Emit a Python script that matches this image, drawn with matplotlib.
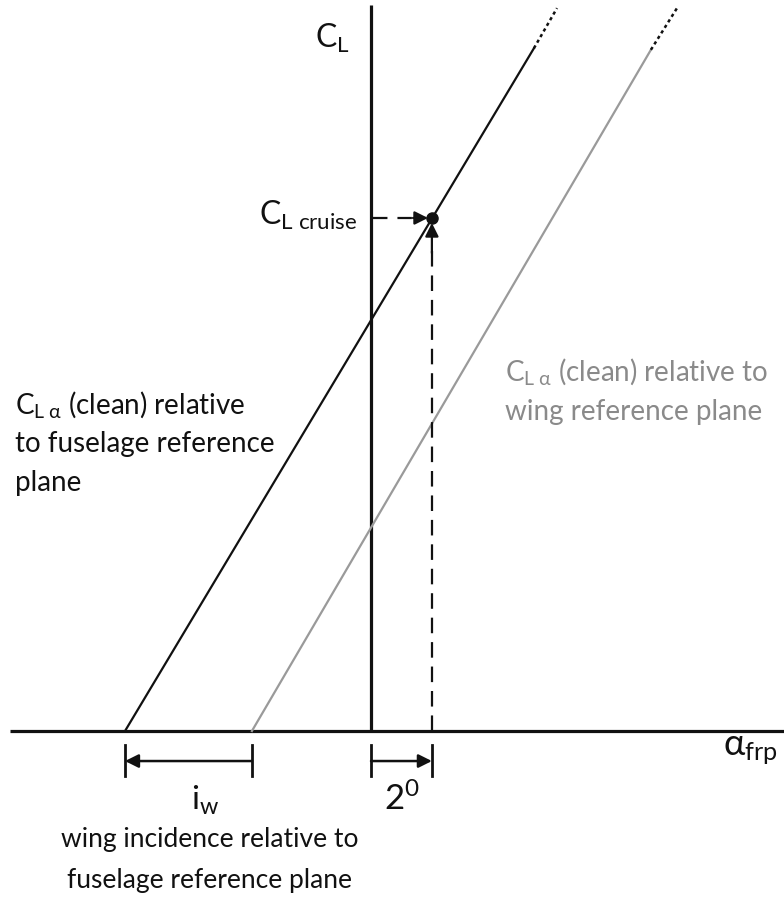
import matplotlib.pyplot as plt

plt.rcParams['font.family'] = ['Lato', 'DejaVu Sans']
plt.rcParams['mathtext.fontset'] = 'custom'
plt.rcParams['mathtext.rm'] = 'Lato'
plt.rcParams['mathtext.it'] = 'Lato:italic'
plt.rcParams['mathtext.bf'] = 'Lato:bold'

# lift curves (alpha_frp in deg, CL); solid part then dotted extension
frp_alpha = [-8.2, 5.43]
frp_cl = [0.0, 1.36]
frp_ext_alpha = [5.43, 6.2]
frp_ext_cl = [1.36, 1.44]

wrp_alpha = [-3.97, 9.33]
wrp_cl = [0.0, 1.357]
wrp_ext_alpha = [9.33, 10.2]
wrp_ext_cl = [1.357, 1.44]

# cruise point
alpha_cruise = 2.03
cl_cruise = 1.022

# zero-lift angles used for the dimension marks
alpha0_frp = -8.2
alpha0_wrp = -3.97

black = '#111111'
grey = '#9a9a9a'
grey_txt = '#8a8a8a'
fs = 20

fig = plt.figure(figsize=(7.84, 9.01), dpi=100)
ax = fig.add_axes([0, 0, 1, 1])
ax.set_xlim(-12.367, 13.767)
ax.set_ylim(-0.3386, 1.4562)
ax.axis('off')

# axes
ax.plot([-12.03, 13.767], [0, 0], color=black, lw=2.3, solid_capstyle='butt')
ax.plot([0, 0], [0, 1.446], color=black, lw=2.3, solid_capstyle='butt')

# lift curves
ax.plot(frp_alpha, frp_cl, color=black, lw=1.6)
ax.plot(frp_ext_alpha, frp_ext_cl, color=black, lw=1.8, dashes=(1.3, 1.3))
ax.plot(wrp_alpha, wrp_cl, color=grey, lw=1.6)
ax.plot(wrp_ext_alpha, wrp_ext_cl, color=black, lw=1.8, dashes=(1.3, 1.3))

# cruise point and dashed leaders
ax.plot([alpha_cruise], [cl_cruise], 'o', color=black, ms=8)
ax.plot([0.07, 1.55], [cl_cruise, cl_cruise], color=black, lw=1.6,
        dashes=(6.5, 4.5))
ax.annotate('', xy=(alpha_cruise - 0.13, cl_cruise), xytext=(1.4, cl_cruise),
            arrowprops=dict(arrowstyle='-|>', color=black, lw=1.6,
                            mutation_scale=20, shrinkA=0, shrinkB=0))
ax.plot([alpha_cruise, alpha_cruise], [0, cl_cruise - 0.06], color=black,
        lw=1.6, dashes=(7, 4))
ax.annotate('', xy=(alpha_cruise, cl_cruise - 0.01),
            xytext=(alpha_cruise, cl_cruise - 0.07),
            arrowprops=dict(arrowstyle='-|>', color=black, lw=1.6,
                            mutation_scale=20, shrinkA=0, shrinkB=0))

# dimension marks below the axis
tick_lo, tick_hi, dim_y = -0.0896, -0.0279, -0.0598
for a in [alpha0_frp, alpha0_wrp, 0, alpha_cruise]:
    ax.plot([a, a], [tick_lo, tick_hi], color=black, lw=2)
ax.annotate('', xy=(alpha0_frp, dim_y), xytext=(alpha0_wrp, dim_y),
            arrowprops=dict(arrowstyle='-|>', color=black, lw=1.8,
                            mutation_scale=20, shrinkA=0, shrinkB=0))
ax.annotate('', xy=(alpha_cruise, dim_y), xytext=(0, dim_y),
            arrowprops=dict(arrowstyle='-|>', color=black, lw=1.8,
                            mutation_scale=20, shrinkA=0, shrinkB=0))

# labels
ax.text(-1.867, 1.3606, r'$\mathrm{C}_{\mathrm{L}}$', fontsize=fs + 3,
        color=black, ha='left', va='baseline')
ax.text(-0.467, 1.008, r'$\mathrm{C}_{\mathrm{L\ cruise}}$', fontsize=fs + 3,
        color=black, ha='right', va='baseline')

left_lines = [r'$\mathrm{C}_{\mathrm{L\ \alpha}}$ (clean) relative',
              'to fuselage reference', 'plane']
for txt, y in zip(left_lines, [0.6335, 0.5558, 0.4781]):
    ax.text(-11.867, y, txt, fontsize=fs, color=black, ha='left',
            va='baseline')

right_lines = [r'$\mathrm{C}_{\mathrm{L\ \alpha}}$ (clean) relative to',
               'wing reference plane']
for txt, y in zip(right_lines, [0.6992, 0.6195]):
    ax.text(4.467, y, txt, fontsize=fs, color=grey_txt, ha='left',
            va='baseline')

ax.text(11.733, -0.0478, r'$\mathrm{\alpha}_{\mathrm{frp}}$', fontsize=fs + 6,
        color=black, ha='left', va='baseline')
ax.text(-5.533, -0.1574, r'$\mathrm{i}_{\mathrm{w}}$', fontsize=fs + 4,
        color=black, ha='center', va='baseline')
ax.text(1.033, -0.1574, r'$\mathrm{2}^{\mathrm{0}}$', fontsize=fs + 5,
        color=black, ha='center', va='baseline')

bottom_lines = ['wing incidence relative to', 'fuselage reference plane']
for txt, y in zip(bottom_lines, [-0.2311, -0.3127]):
    ax.text(-5.367, y, txt, fontsize=fs - 1, color=black, ha='center',
            va='baseline')

fig.savefig('out.png', dpi=100)
